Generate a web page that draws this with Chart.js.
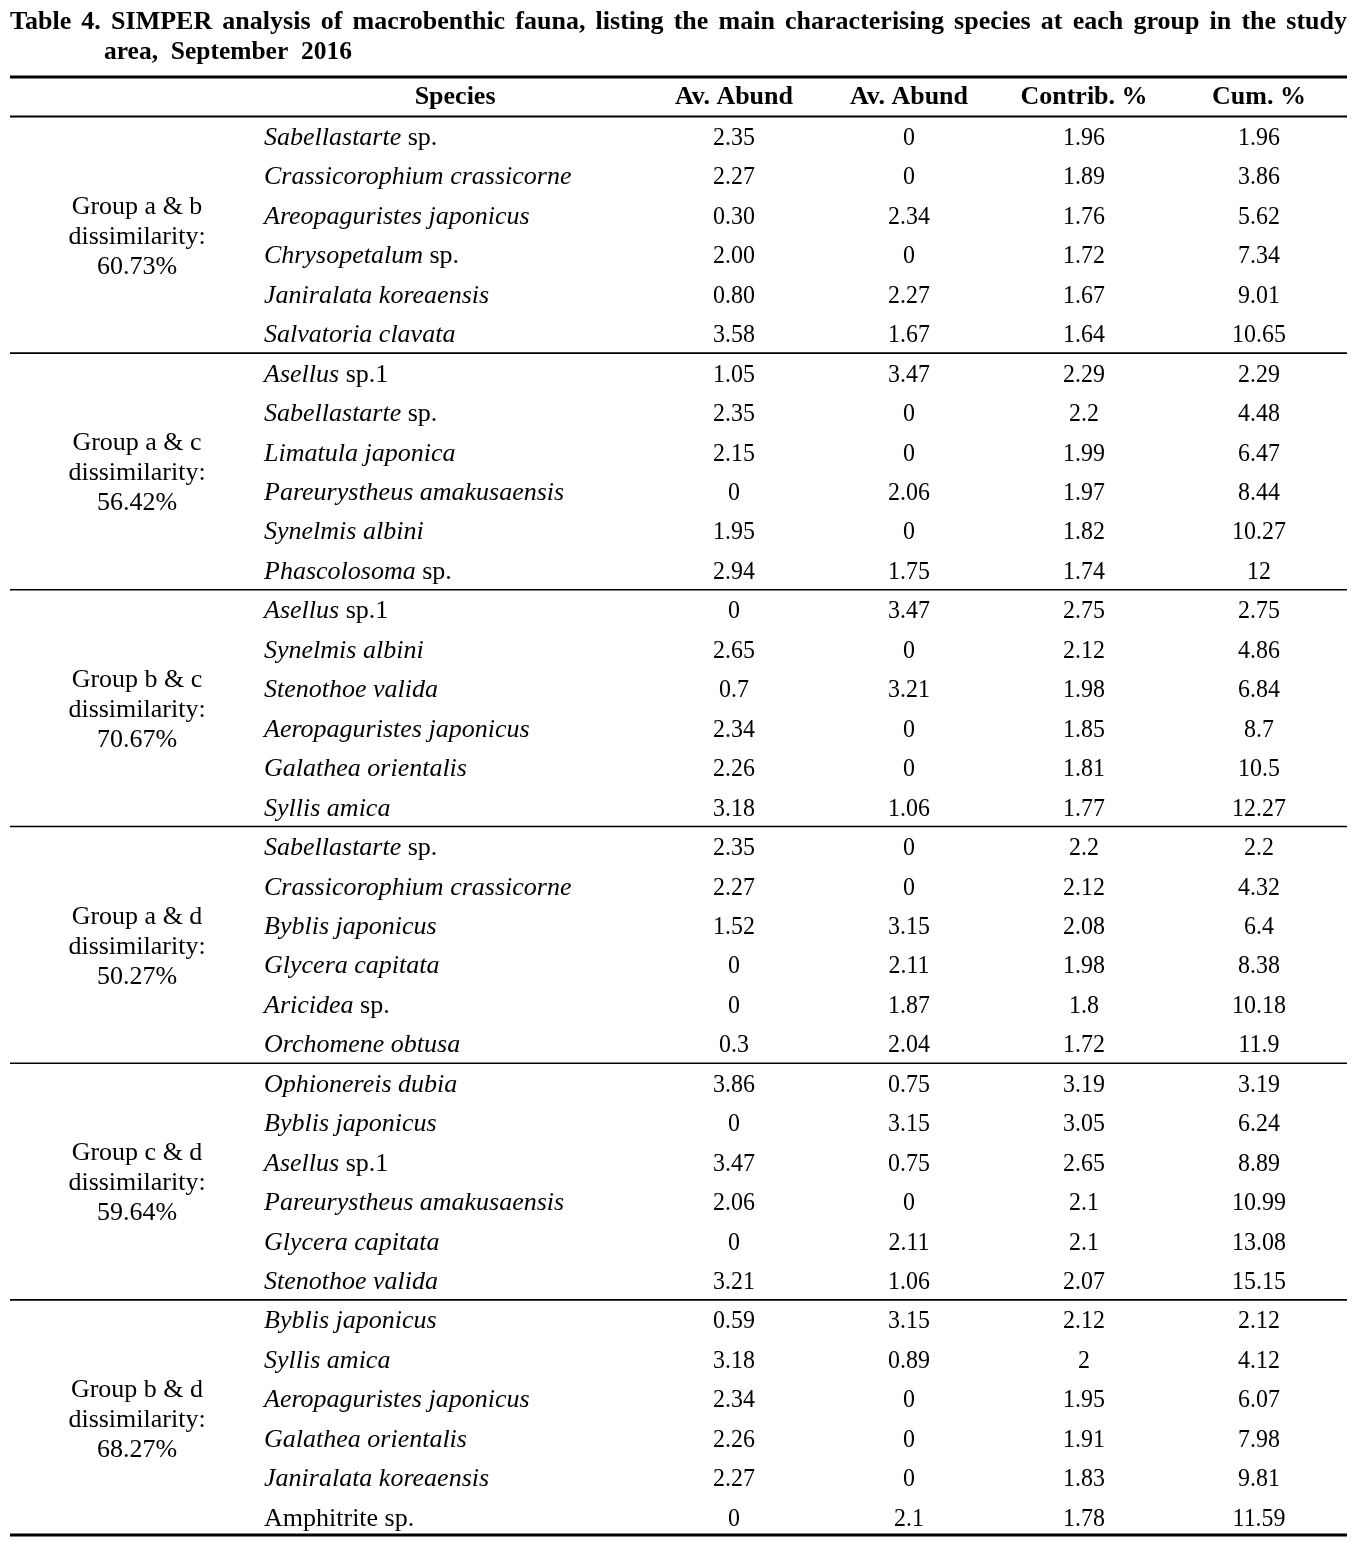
<!DOCTYPE html>
<html>
<head>
<meta charset="utf-8">
<script src="https://cdn.jsdelivr.net/npm/chart.js@4.4.0/dist/chart.umd.min.js"></script>
<style>
html, body { margin: 0; padding: 0; background: #fff; }
#wrap { width: 1367px; height: 1542px; position: relative; }
</style>
</head>
<body>
<div id="wrap"><canvas id="c"></canvas></div>
<script>
// Table text and values (kept as text so "0.30", "2.00", "12" keep their form)
var titleLine1 = "Table 4. SIMPER analysis of macrobenthic fauna, listing the main characterising species at each group in the study";
var titleLine2 = "area,  September  2016";
var headers = ["Species", "Av. Abund", "Av. Abund", "Contrib. %", "Cum. %"];

var groupLabels = [
	["Group a & b", "dissimilarity:", "60.73%"],
	["Group a & c", "dissimilarity:", "56.42%"],
	["Group b & c", "dissimilarity:", "70.67%"],
	["Group a & d", "dissimilarity:", "50.27%"],
	["Group c & d", "dissimilarity:", "59.64%"],
	["Group b & d", "dissimilarity:", "68.27%"]
];

// *...* = italic part
var species = [
	"*Sabellastarte* sp.", "*Crassicorophium crassicorne*", "*Areopaguristes japonicus*", "*Chrysopetalum* sp.", "*Janiralata koreaensis*", "*Salvatoria clavata*",
	"*Asellus* sp.1", "*Sabellastarte* sp.", "*Limatula japonica*", "*Pareurystheus amakusaensis*", "*Synelmis albini*", "*Phascolosoma* sp.",
	"*Asellus* sp.1", "*Synelmis albini*", "*Stenothoe valida*", "*Aeropaguristes japonicus*", "*Galathea orientalis*", "*Syllis amica*",
	"*Sabellastarte* sp.", "*Crassicorophium crassicorne*", "*Byblis japonicus*", "*Glycera capitata*", "*Aricidea* sp.", "*Orchomene obtusa*",
	"*Ophionereis dubia*", "*Byblis japonicus*", "*Asellus* sp.1", "*Pareurystheus amakusaensis*", "*Glycera capitata*", "*Stenothoe valida*",
	"*Byblis japonicus*", "*Syllis amica*", "*Aeropaguristes japonicus*", "*Galathea orientalis*", "*Janiralata koreaensis*", "Amphitrite sp."
];

var avAbund1 = [
	"2.35", "2.27", "0.30", "2.00", "0.80", "3.58",
	"1.05", "2.35", "2.15", "0", "1.95", "2.94",
	"0", "2.65", "0.7", "2.34", "2.26", "3.18",
	"2.35", "2.27", "1.52", "0", "0", "0.3",
	"3.86", "0", "3.47", "2.06", "0", "3.21",
	"0.59", "3.18", "2.34", "2.26", "2.27", "0"
];

var avAbund2 = [
	"0", "0", "2.34", "0", "2.27", "1.67",
	"3.47", "0", "0", "2.06", "0", "1.75",
	"3.47", "0", "3.21", "0", "0", "1.06",
	"0", "0", "3.15", "2.11", "1.87", "2.04",
	"0.75", "3.15", "0.75", "0", "2.11", "1.06",
	"3.15", "0.89", "0", "0", "0", "2.1"
];

var contrib = [
	"1.96", "1.89", "1.76", "1.72", "1.67", "1.64",
	"2.29", "2.2", "1.99", "1.97", "1.82", "1.74",
	"2.75", "2.12", "1.98", "1.85", "1.81", "1.77",
	"2.2", "2.12", "2.08", "1.98", "1.8", "1.72",
	"3.19", "3.05", "2.65", "2.1", "2.1", "2.07",
	"2.12", "2", "1.95", "1.91", "1.83", "1.78"
];

var cumulative = [
	"1.96", "3.86", "5.62", "7.34", "9.01", "10.65",
	"2.29", "4.48", "6.47", "8.44", "10.27", "12",
	"2.75", "4.86", "6.84", "8.7", "10.5", "12.27",
	"2.2", "4.32", "6.4", "8.38", "10.18", "11.9",
	"3.19", "6.24", "8.89", "10.99", "13.08", "15.15",
	"2.12", "4.12", "6.07", "7.98", "9.81", "11.59"
];

var rowsPerGroup = 6;

// layout: column x positions in table units (0 = left rule, 1 = right rule)
var colGroup = 0.0950;
var colSpecies = 0.1900;
var colSpeciesHead = 0.3329;
var colNums = [0.5415, 0.6724, 0.8033, 0.9342];

var FONT = "'Liberation Serif', 'Times New Roman', serif";
var INK = "#000";

function cellSet(col, values) {
	return {
		data: values.map(function (v, i) { return { x: col, y: i + 1, text: v }; }),
		pointRadius: 0,
		pointHoverRadius: 0
	};
}

var datasets = [
	cellSet(colSpecies, species),
	cellSet(colNums[0], avAbund1),
	cellSet(colNums[1], avAbund2),
	cellSet(colNums[2], contrib),
	cellSet(colNums[3], cumulative),
	{
		data: headers.map(function (h, i) {
			return { x: i == 0 ? colSpeciesHead : colNums[i - 1], y: 0, text: h };
		}),
		pointRadius: 0, pointHoverRadius: 0
	},
	{
		data: groupLabels.map(function (g, i) {
			return { x: colGroup, y: i * rowsPerGroup + (rowsPerGroup + 1) / 2, text: g };
		}),
		pointRadius: 0, pointHoverRadius: 0
	}
];

function drawSpecies(ctx, s, x, y) {
	var parts = s.split("*");
	for (var i = 0; i < parts.length; i++) {
		if (!parts[i]) continue;
		ctx.font = (i % 2 == 1 ? "italic " : "") + "26px " + FONT;
		ctx.fillText(parts[i], x, y);
		x += ctx.measureText(parts[i]).width;
	}
}

// numbers in the source are a little narrower than the text face
function drawNumber(ctx, s, x, y) {
	ctx.save();
	ctx.translate(x, y);
	ctx.scale(0.92, 1);
	ctx.fillText(s, 0, 0);
	ctx.restore();
}

var tablePlugin = {
	id: 'tableText',
	afterDatasetsDraw: function (chart) {
		var ctx = chart.ctx;
		var area = chart.chartArea;
		var yScale = chart.scales.y;
		ctx.save();
		ctx.fillStyle = INK;
		ctx.strokeStyle = INK;
		ctx.textBaseline = 'middle';

		// title, first line justified
		ctx.font = "bold 26px " + FONT;
		ctx.textAlign = 'left';
		var words = titleLine1.split(" ");
		var total = 0;
		words.forEach(function (w) { total += ctx.measureText(w).width; });
		var gap = (area.right - area.left - total) / (words.length - 1);
		var tx = area.left;
		words.forEach(function (w) {
			ctx.fillText(w, tx, 22);
			tx += ctx.measureText(w).width + gap;
		});
		ctx.save();
		ctx.translate(area.left + 94, 52);
		ctx.scale(0.98, 1);
		ctx.fillText(titleLine2, 0, 0);
		ctx.restore();

		// rules
		function rule(row, w) {
			var y = yScale.getPixelForValue(row);
			ctx.lineWidth = w;
			ctx.beginPath();
			ctx.moveTo(area.left, y);
			ctx.lineTo(area.right, y);
			ctx.stroke();
		}
		rule(-0.5, 3);
		rule(0.5, 2);
		for (var g = 1; g < groupLabels.length; g++) rule(g * rowsPerGroup + 0.5, 1.6);
		rule(yScale.max, 3);

		chart.data.datasets.forEach(function (ds, di) {
			var meta = chart.getDatasetMeta(di);
			meta.data.forEach(function (pt, i) {
				var cell = ds.data[i];
				if (di == 0) {
					ctx.textAlign = 'left';
					drawSpecies(ctx, cell.text, pt.x, pt.y + 2);
				} else if (di == 5) {
					ctx.textAlign = 'center';
					ctx.font = "bold 26px " + FONT;
					ctx.fillText(cell.text, pt.x, pt.y + 1);
				} else if (di == 6) {
					ctx.textAlign = 'center';
					ctx.font = "26px " + FONT;
					cell.text.forEach(function (line, k) {
						ctx.fillText(line, pt.x, pt.y + 2 + (k - 1) * 30);
					});
				} else {
					ctx.textAlign = 'center';
					ctx.font = "26px " + FONT;
					drawNumber(ctx, cell.text, pt.x, pt.y + 2);
				}
			});
		});
		ctx.restore();
	}
};

new Chart(document.getElementById('c'), {
	type: 'scatter',
	data: { datasets: datasets },
	options: {
		responsive: true,
		maintainAspectRatio: false,
		animation: false,
		events: [],
		layout: { padding: { top: 77, bottom: 7, left: 10, right: 20 } },
		plugins: { legend: { display: false }, tooltip: { enabled: false }, title: { display: false } },
		scales: {
			x: { type: 'linear', min: 0, max: 1, display: false },
			y: { type: 'linear', min: -0.5, max: 36.46, reverse: true, display: false }
		}
	},
	plugins: [tablePlugin]
});
</script>
</body>
</html>
